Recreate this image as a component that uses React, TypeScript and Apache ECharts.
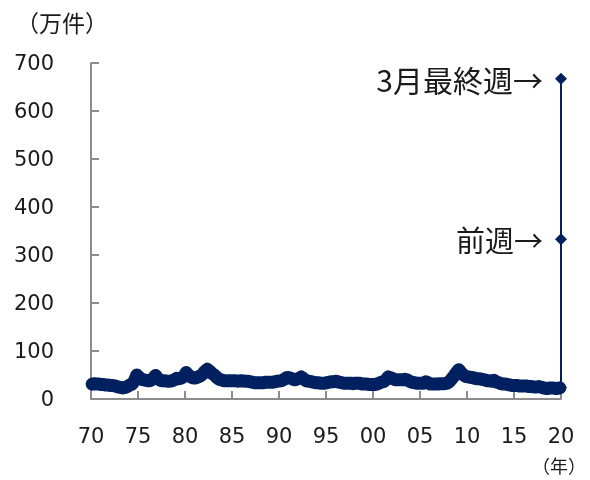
import React, { useEffect, useRef } from "react";
import * as echarts from "echarts";

// Quarterly readings (万件) of the weekly series, 1970–2019
const startYear = 1970;
const claims: number[] = [
  // 1970
  31, 32, 31, 31,
  30, 30, 29, 29,
  28, 28, 27, 25,
  24, 23, 24, 26,
  29, 31, 38, 50,
  // 1975
  45, 41, 40, 39,
  38, 39, 43, 49,
  42, 39, 38, 38,
  37, 37, 38, 40,
  43, 42, 44, 47,
  // 1980
  55, 50, 46, 44,
  44, 46, 48, 52,
  58, 62, 58, 53,
  50, 45, 41, 40,
  38, 38, 38, 38,
  // 1985
  38, 38, 37, 38,
  38, 37, 37, 36,
  35, 34, 34, 34,
  34, 34, 35, 35,
  35, 35, 36, 37,
  // 1990
  38, 39, 42, 45,
  44, 42, 40, 41,
  43, 46, 42, 38,
  37, 36, 35, 34,
  34, 33, 33, 33,
  // 1995
  34, 35, 36, 36,
  37, 35, 34, 33,
  33, 33, 33, 32,
  33, 33, 33, 31,
  31, 31, 30, 30,
  // 2000
  30, 31, 33, 35,
  36, 40, 46, 44,
  42, 40, 40, 40,
  40, 41, 40, 37,
  35, 34, 33, 33,
  // 2005
  33, 33, 36, 34,
  31, 31, 31, 31,
  32, 32, 32, 33,
  36, 42, 48, 55,
  61, 55, 50, 47,
  // 2010
  46, 45, 45, 43,
  42, 42, 41, 40,
  38, 38, 37, 39,
  35, 34, 32, 31,
  31, 30, 29, 28,
  // 2015
  28, 28, 27, 27,
  27, 27, 26, 26,
  25, 25, 26, 25,
  23, 22, 22, 23,
  23, 22, 22, 23,
];

// Last weeks of March 2020 (万件)
const lastWeeksLabels: string[] = ["", "前週→", "3月最終週→"];
const lastWeeksValues: number[] = [24, 333, 667];
const lastWeeksYear = 2020;

const xTickYears: number[] = [1970, 1975, 1980, 1985, 1990, 1995, 2000, 2005, 2010, 2015, 2020];

const NAVY = "#002060";
const AXIS = "#8c8c8c";
const FONT = '"DejaVu Sans", "Noto Sans CJK JP", sans-serif';
const CJK = '"Noto Sans CJK JP", "DejaVu Sans", sans-serif';
const TEXT = "#1a1a1a";

export default function App() {
  const ref = useRef<HTMLDivElement>(null);

  useEffect(() => {
    if (!ref.current) return;
    const chart = echarts.init(ref.current, undefined, { renderer: "svg" });

    const histData = claims.map((v, i) => [startYear + Math.floor(i / 4) + (i % 4) * 0.25 + 0.125, v]);
    const lastData = lastWeeksValues.map((v, i) => ({
      value: [lastWeeksYear, v],
      label: lastWeeksLabels[i]
        ? {
            show: true,
            position: "left",
            distance: 12,
            formatter: lastWeeksLabels[i],
            fontSize: i === 2 ? 30 : 29,
            fontFamily: CJK,
            color: TEXT,
          }
        : { show: false },
    }));

    chart.setOption({
      animation: false,
      textStyle: { fontFamily: FONT },
      grid: { left: 91, right: 29, top: 63, bottom: 81, containLabel: false },
      xAxis: {
        type: "value",
        min: xTickYears[0],
        max: xTickYears[xTickYears.length - 1],
        interval: 5,
        splitLine: { show: false },
        axisLine: { show: true, lineStyle: { color: AXIS, width: 2 } },
        axisTick: { show: true, inside: true, length: 8, lineStyle: { color: AXIS, width: 2 } },
        axisLabel: {
          margin: 26,
          fontSize: 21,
          color: TEXT,
          fontFamily: FONT,
          formatter: (v: number) => String(v % 100).padStart(2, "0"),
        },
      },
      yAxis: {
        type: "value",
        min: 0,
        max: 700,
        interval: 100,
        splitLine: { show: false },
        axisLine: { show: true, lineStyle: { color: AXIS, width: 2 } },
        axisTick: { show: true, inside: true, length: 8, lineStyle: { color: AXIS, width: 2 } },
        axisLabel: { margin: 37, fontSize: 21, color: TEXT, fontFamily: FONT },
      },
      graphic: [
        {
          type: "text",
          left: 16,
          top: 10,
          style: { text: "（万件）", fontSize: 23, fill: TEXT, fontFamily: CJK },
        },
        {
          type: "text",
          x: 559,
          y: 465,
          style: {
            text: "（年）",
            fontSize: 18,
            fill: TEXT,
            fontFamily: CJK,
            align: "center",
            verticalAlign: "middle",
          },
        },
      ],
      series: [
        {
          type: "line",
          data: histData,
          showSymbol: false,
          symbol: "none",
          lineStyle: { color: NAVY, width: 13, cap: "round", join: "round" },
          z: 2,
        },
        {
          type: "line",
          data: lastData,
          symbol: "diamond",
          symbolSize: 12,
          itemStyle: { color: NAVY },
          lineStyle: { color: NAVY, width: 2 },
          z: 3,
        },
      ],
    });

    return () => chart.dispose();
  }, []);

  return <div ref={ref} style={{ position: "fixed", left: 0, top: 0, width: 590, height: 480 }} />;
}
